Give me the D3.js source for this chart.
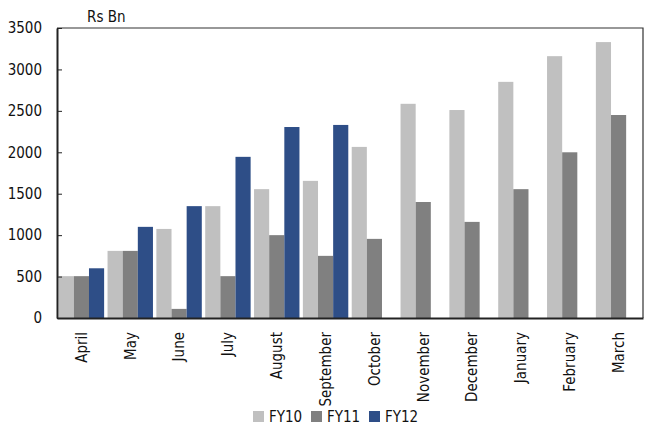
<!DOCTYPE html>
<html>
<head>
<meta charset="utf-8">
<script src="https://cdn.jsdelivr.net/npm/d3@7/dist/d3.min.js"></script>
<style>
  html, body { margin: 0; padding: 0; background: #fff; }
  svg { display: block; }
  svg text { font-family: "DejaVu Sans", sans-serif; font-stretch: condensed; fill: #111; font-size: 15px; }
</style>
</head>
<body>
<svg id="chart" width="645" height="427"></svg>
<script>
// Monthly cumulative figures, Rs Bn
const months = ["April", "May", "June", "July", "August", "September",
                "October", "November", "December", "January", "February", "March"];
const seriesNames = ["FY10", "FY11", "FY12"];
const fy10 = [505, 810, 1075, 1350, 1555, 1655, 2065, 2585, 2510, 2850, 3160, 3330];
const fy11 = [505, 810, 110, 505, 1000, 750, 955, 1400, 1160, 1555, 2000, 2450];
const fy12 = [600, 1100, 1350, 1945, 2305, 2330, null, null, null, null, null, null];
const yTicks = [0, 500, 1000, 1500, 2000, 2500, 3000, 3500];
const colors = ["#c0c0c0", "#808080", "#2e4e87"];

const seriesValues = [fy10, fy11, fy12];
const svg = d3.select("#chart");
const plotLeft = 57, plotRight = 643, plotTop = 28, plotBottom = 318;

const x0 = d3.scaleBand().domain(months).range([plotLeft, plotRight])
  .paddingInner(0.07).paddingOuter(0.035);
const x1 = d3.scaleBand().domain(seriesNames).range([0, x0.bandwidth()]);
const y = d3.scaleLinear().domain([0, 3500]).range([plotBottom, plotTop]);

// Bars
const groups = svg.append("g").selectAll("g")
  .data(months)
  .join("g")
  .attr("transform", d => `translate(${x0(d)},0)`);

groups.selectAll("rect")
  .data((m, i) => seriesNames.map((s, k) => ({ s, k, v: seriesValues[k][i] })).filter(d => d.v != null))
  .join("rect")
  .attr("x", d => x1(d.s))
  .attr("width", x1.bandwidth())
  .attr("y", d => y(d.v))
  .attr("height", d => y(0) - y(d.v))
  .attr("fill", d => colors[d.k]);

// Frame: top and right border
svg.append("path")
  .attr("d", `M${plotLeft},${plotTop}H${plotRight}V${plotBottom}`)
  .attr("fill", "none").attr("stroke", "#333").attr("stroke-width", 1.2);

// Y axis with inward ticks
const yAxis = svg.append("g")
  .attr("transform", `translate(${plotLeft},0)`)
  .call(d3.axisLeft(y).tickValues(yTicks).tickFormat(d3.format("d"))
    .tickSizeInner(-5).tickSizeOuter(0).tickPadding(15));
yAxis.attr("font-family", null).attr("font-size", null);
yAxis.select(".domain").attr("stroke", "#222").attr("stroke-width", 2);
yAxis.selectAll(".tick line").attr("stroke", "#222");
yAxis.selectAll("text").attr("fill", "#111");

// X axis baseline and rotated month labels
const xAxis = svg.append("g")
  .attr("transform", `translate(0,${plotBottom})`)
  .call(d3.axisBottom(x0).tickSize(0).tickSizeOuter(0).tickPadding(0));
xAxis.attr("font-family", null).attr("font-size", null);
xAxis.select(".domain").attr("stroke", "#222").attr("stroke-width", 2);
xAxis.selectAll("text")
  .attr("transform", "rotate(-90)")
  .attr("x", -14).attr("y", 0).attr("dy", "0.35em")
  .attr("text-anchor", "end")
  .attr("fill", "#111");

// Unit label
svg.append("text").attr("x", 87).attr("y", 22).text("Rs Bn");

// Legend
const legendX = [253, 311, 369];
const legend = svg.append("g").selectAll("g")
  .data(seriesNames)
  .join("g")
  .attr("transform", (d, i) => `translate(${legendX[i]},411)`);
legend.append("rect").attr("width", 11).attr("height", 11).attr("fill", (d, i) => colors[i]);
legend.append("text").attr("x", 16).attr("y", 11).text(d => d);
</script>
</body>
</html>
